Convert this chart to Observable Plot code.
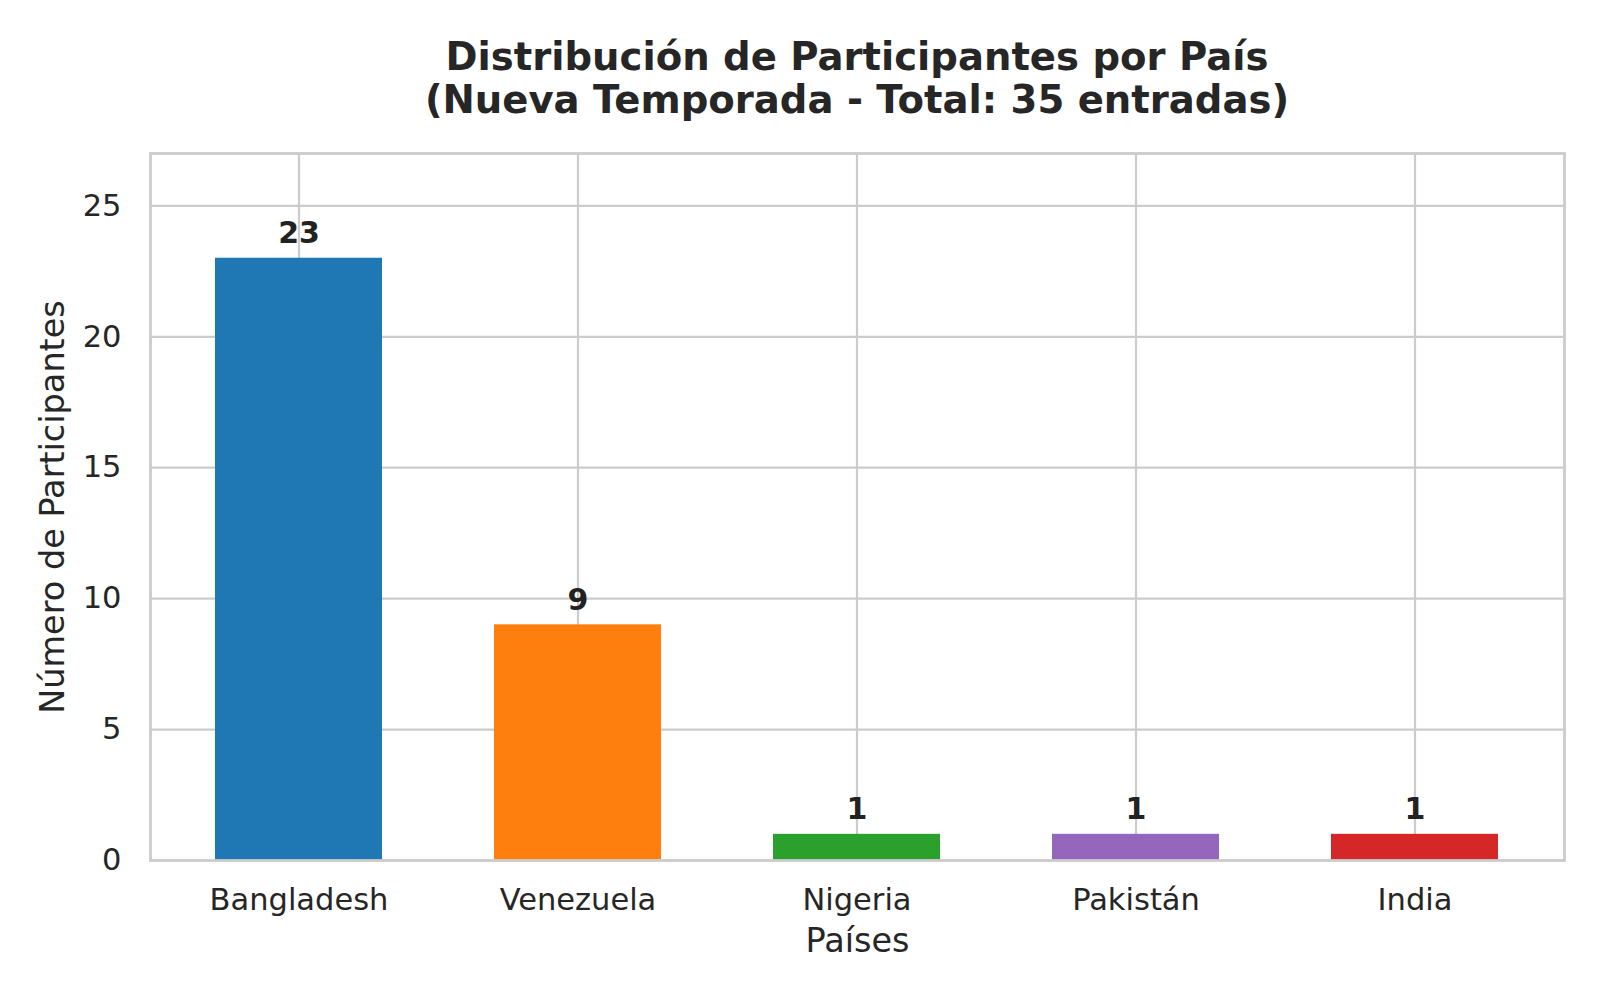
<!DOCTYPE html>
<html><head><meta charset="utf-8">
<script src="https://cdn.jsdelivr.net/npm/d3@7"></script>
<script src="https://cdn.jsdelivr.net/npm/@observablehq/plot@0.6"></script>
<style>
body{margin:0;background:#fff;font-family:"DejaVu Sans",sans-serif;}
#title{box-sizing:border-box;width:1600px;height:130px;padding-top:35px;padding-left:114px;text-align:center;font-weight:bold;font-size:38.6px;line-height:43.2px;color:#262626;white-space:nowrap;}
</style></head><body>
<div id="title">Distribución de Participantes por País<br>(Nueva Temporada - Total: 35 entradas)</div>
<div id="chart"></div>
<script>
const countries = ["Bangladesh", "Venezuela", "Nigeria", "Pakistán", "India"];
const participants = [23, 9, 1, 1, 1];
const barColors = ["#1f77b4", "#ff7f0e", "#2ca02c", "#9467bd", "#d62728"];
const yTicks = [0, 5, 10, 15, 20, 25];
const data = countries.map((c, i) => ({country: c, value: participants[i], color: barColors[i]}));
const chart = Plot.plot({
  width: 1600, height: 870, marginTop: 23, marginBottom: 140, marginLeft: 150, marginRight: 36,
  style: {fontFamily: "DejaVu Sans", color: "#262626", background: "#fff"},
  x: {domain: countries, paddingInner: 0.4, paddingOuter: 0.23},
  y: {domain: [0, 27]},
  marks: [
    Plot.gridX({stroke: "#cccccc", strokeOpacity: 1, strokeWidth: 2.2}),
    Plot.gridY(yTicks, {stroke: "#cccccc", strokeOpacity: 1, strokeWidth: 2.2}),
    Plot.barY(data, {x: "country", y: "value", fill: d => d.color, inset: 0}),
    Plot.frame({stroke: "#cccccc", strokeWidth: 2.8}),
    Plot.axisY(yTicks, {tickSize: 0, tickPadding: 29, fontSize: 30.5, label: null}),
    Plot.axisX({tickSize: 0, tickPadding: 28, fontSize: 30.5, label: null}),
    Plot.text(data, {x: "country", y: "value", text: d => String(d.value), dy: -15, lineAnchor: "bottom", fontWeight: "bold", fontSize: 30, fill: "#222222"}),
    Plot.text(["Número de Participantes"], {frameAnchor: "left", dx: -97, rotate: -90, fontSize: 33.5, textAnchor: "middle", lineAnchor: "middle", fill: "#262626"}),
    Plot.text(["Países"], {frameAnchor: "bottom", dy: 68, lineAnchor: "top", fontSize: 33.5, fill: "#262626"})
  ]
});
document.getElementById("chart").appendChild(chart);
</script>
</body></html>
